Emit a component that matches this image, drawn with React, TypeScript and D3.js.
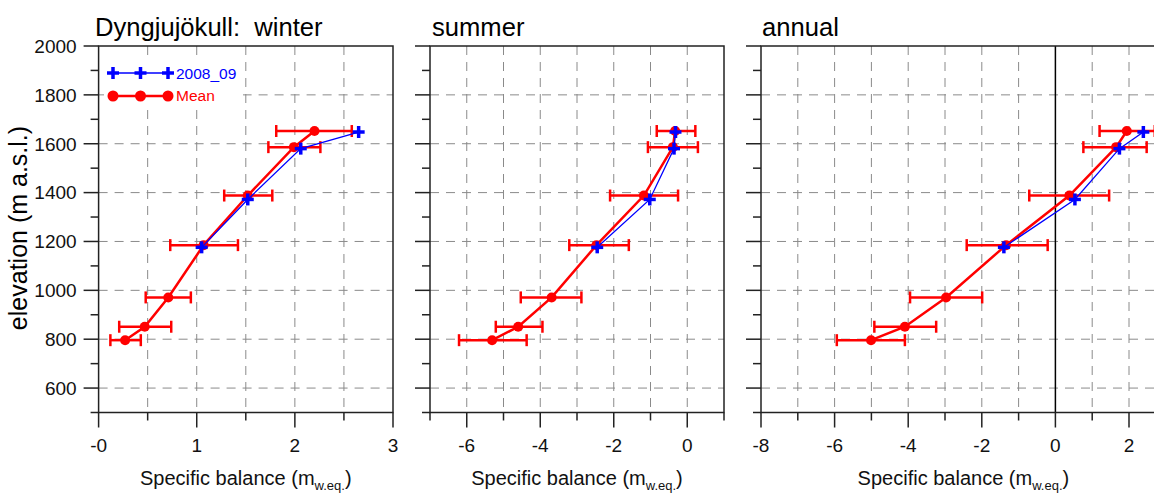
import React from "react";
import * as d3 from "d3";

// elevations (m a.s.l.)
const elevMean = [796, 851, 971, 1185, 1388, 1586, 1652];
const elevYear = [1176, 1372, 1580, 1648];

// winter
const winterMean = [0.27, 0.47, 0.71, 1.07, 1.52, 1.99, 2.2];
const winterLo = [0.12, 0.21, 0.48, 0.73, 1.28, 1.73, 1.81];
const winterHi = [0.43, 0.74, 0.94, 1.42, 1.77, 2.26, 2.58];
const winterYear = [1.05, 1.52, 2.06, 2.65];

// summer
const summerMean = [-5.31, -4.6, -3.69, -2.47, -1.18, -0.39, -0.33];
const summerLo = [-6.21, -5.21, -4.53, -3.21, -2.1, -1.07, -0.83];
const summerHi = [-4.37, -3.94, -2.88, -1.59, -0.25, 0.29, 0.22];
const summerYear = [-2.45, -1.02, -0.36, -0.32];

// annual
const annualMean = [-5.01, -4.09, -2.97, -1.34, 0.38, 1.65, 1.94];
const annualLo = [-5.94, -4.92, -3.95, -2.41, -0.71, 0.76, 1.2];
const annualHi = [-4.09, -3.24, -1.99, -0.21, 1.46, 2.48, 2.7];
const annualYear = [-1.4, 0.53, 1.74, 2.39];

// axes
const yMajor = [600, 800, 1000, 1200, 1400, 1600, 1800, 2000];
const yMinor = [500, 700, 900, 1100, 1300, 1500, 1700, 1900];
const yGrid = [600, 800, 1000, 1200, 1400, 1600, 1800];

const p1Ticks = [0, 1, 2, 3];
const p1Labels = ["-0", "1", "2", "3"];
const p1Minor = [0.5, 1.5, 2.5];
const p1Grid = [0.5, 1, 1.5, 2, 2.5];

const p2Ticks = [-6, -4, -2, 0];
const p2Labels = ["-6", "-4", "-2", "0"];
const p2Minor = [-7, -5, -3, -1, 1];
const p2Grid = [-6, -5, -4, -3, -2, -1, 0];

const p3Ticks = [-8, -6, -4, -2, 0, 2];
const p3Labels = ["-8", "-6", "-4", "-2", "0", "2"];
const p3Minor = [-7, -5, -3, -1, 1, 3];
const p3Grid = [-7, -6, -5, -4, -3, -2, -1, 1, 2];

const FONT = "'Liberation Sans', Arial, sans-serif";
const RED = "#ff0000";
const BLUE = "#0000ff";

const y = d3.scaleLinear().domain([500, 2000]).range([412.5, 46]);

const panels = [
  {
    title: "Dyngjujökull:  winter", titleX: 95,
    x: d3.scaleLinear().domain([0, 3]).range([98.6, 393]),
    ticks: p1Ticks, labels: p1Labels, minor: p1Minor, grid: p1Grid,
    mean: winterMean, lo: winterLo, hi: winterHi, year: winterYear, zero: false,
  },
  {
    title: "summer", titleX: 432,
    x: d3.scaleLinear().domain([-7, 1]).range([430, 724]),
    ticks: p2Ticks, labels: p2Labels, minor: p2Minor, grid: p2Grid,
    mean: summerMean, lo: summerLo, hi: summerHi, year: summerYear, zero: false,
  },
  {
    title: "annual", titleX: 762,
    x: d3.scaleLinear().domain([-8, 3]).range([761, 1165.8]),
    ticks: p3Ticks, labels: p3Labels, minor: p3Minor, grid: p3Grid,
    mean: annualMean, lo: annualLo, hi: annualHi, year: annualYear, zero: true,
  },
];

const Plus = ({ cx, cy, s = 6 }: { cx: number; cy: number; s?: number }) => (
  <g stroke={BLUE} strokeWidth={3.5}>
    <line x1={cx - s} x2={cx + s} y1={cy} y2={cy} />
    <line x1={cx} x2={cx} y1={cy - s} y2={cy + s} />
  </g>
);

const Panel = ({ p, first }: { p: any; first: boolean }) => {
  const x = p.x;
  const [x0, x1] = x.range();
  const top = y(2000);
  const bot = y(500);
  const meanLine = d3.line<number>().x((d) => x(d)).y((_, i) => y(elevMean[i]));
  const yearLine = d3.line<number>().x((d) => x(d)).y((_, i) => y(elevYear[i]));
  return (
    <g>
      {/* grid */}
      <g stroke="#8a8a8a" strokeWidth={1} strokeDasharray="9,7">
        {p.grid.map((v: number) => (
          <line key={"gx" + v} x1={x(v)} x2={x(v)} y1={top} y2={bot} />
        ))}
        {yGrid.map((v) => (
          <line key={"gy" + v} x1={x0} x2={x1} y1={y(v)} y2={y(v)} />
        ))}
      </g>
      {p.zero && <line x1={x(0)} x2={x(0)} y1={top} y2={bot} stroke="#000" strokeWidth={1.5} />}
      {/* frame */}
      <rect x={x0} y={top} width={x1 - x0} height={bot - top} fill="none" stroke="#222" strokeWidth={1.5} />
      {/* ticks */}
      <g stroke="#222" strokeWidth={1.5}>
        {yMajor.map((v) => (
          <line key={"ym" + v} x1={x0 - 15} x2={x0} y1={y(v)} y2={y(v)} />
        ))}
        {yMinor.map((v) => (
          <line key={"yn" + v} x1={x0 - 8} x2={x0} y1={y(v)} y2={y(v)} />
        ))}
        {p.ticks.map((v: number) => (
          <line key={"xm" + v} x1={x(v)} x2={x(v)} y1={bot} y2={bot + 15} />
        ))}
        {p.minor.map((v: number) => (
          <line key={"xn" + v} x1={x(v)} x2={x(v)} y1={bot} y2={bot + 8} />
        ))}
      </g>
      {first &&
        yMajor.map((v) => (
          <text key={"yl" + v} x={x0 - 22} y={y(v)} dy="0.36em" textAnchor="end" fontSize={19} fontFamily={FONT} fill="#111">
            {v}
          </text>
        ))}
      {p.ticks.map((v: number, i: number) => (
        <text key={"xl" + v} x={x(v)} y={452} textAnchor="middle" fontSize={19} fontFamily={FONT} fill="#111">
          {p.labels[i]}
        </text>
      ))}
      <text x={(x0 + x1) / 2} y={485} textAnchor="middle" fontSize={20} fontFamily={FONT} fill="#111">
        Specific balance (m
        <tspan fontSize={13} dy={5}>w.eq.</tspan>
        <tspan dy={-5}>)</tspan>
      </text>
      <text x={p.titleX} y={36} fontSize={25.6} fontFamily={FONT} fill="#000" style={{ whiteSpace: "pre" }}>
        {p.title}
      </text>
      {/* mean with error bars */}
      <g stroke={RED} strokeWidth={2.5}>
        {p.mean.map((_: number, i: number) => {
          const yy = y(elevMean[i]);
          const a = x(p.lo[i]);
          const b = x(p.hi[i]);
          return (
            <g key={"eb" + i}>
              <line x1={a} x2={b} y1={yy} y2={yy} />
              <line x1={a} x2={a} y1={yy - 6} y2={yy + 6} />
              <line x1={b} x2={b} y1={yy - 6} y2={yy + 6} />
            </g>
          );
        })}
      </g>
      <path d={meanLine(p.mean) || ""} fill="none" stroke={RED} strokeWidth={2.5} />
      {p.mean.map((v: number, i: number) => (
        <circle key={"mc" + i} cx={x(v)} cy={y(elevMean[i])} r={5} fill={RED} />
      ))}
      <path d={yearLine(p.year) || ""} fill="none" stroke={BLUE} strokeWidth={1.3} />
      {p.year.map((v: number, i: number) => (
        <Plus key={"yp" + i} cx={x(v)} cy={y(elevYear[i])} />
      ))}
    </g>
  );
};

export default function App() {
  const lx = [113, 140.5, 168];
  return (
    <svg width={1154} height={493} style={{ position: "absolute", left: 0, top: 0, background: "#fff" }}>
      <rect width={1154} height={493} fill="#fff" />
      {panels.map((p, i) => (
        <Panel key={i} p={p} first={i === 0} />
      ))}
      <text transform="translate(27,228) rotate(-90)" textAnchor="middle" fontSize={25} fontFamily={FONT} fill="#000">
        elevation (m a.s.l.)
      </text>
      {/* legend */}
      <rect x={104} y={60} width={139} height={47} fill="#fff" />
      <line x1={lx[0]} x2={lx[2]} y1={73} y2={73} stroke={BLUE} strokeWidth={1.5} />
      {lx.map((v) => (
        <Plus key={"lp" + v} cx={v} cy={73} />
      ))}
      <text x={176} y={78.5} fontSize={15.5} fontFamily={FONT} fill={BLUE}>2008_09</text>
      <line x1={lx[0]} x2={lx[2]} y1={96} y2={96} stroke={RED} strokeWidth={2.5} />
      {lx.map((v) => (
        <circle key={"lc" + v} cx={v} cy={96} r={5.5} fill={RED} />
      ))}
      <text x={176} y={101} fontSize={15.5} fontFamily={FONT} fill={RED}>Mean</text>
    </svg>
  );
}
